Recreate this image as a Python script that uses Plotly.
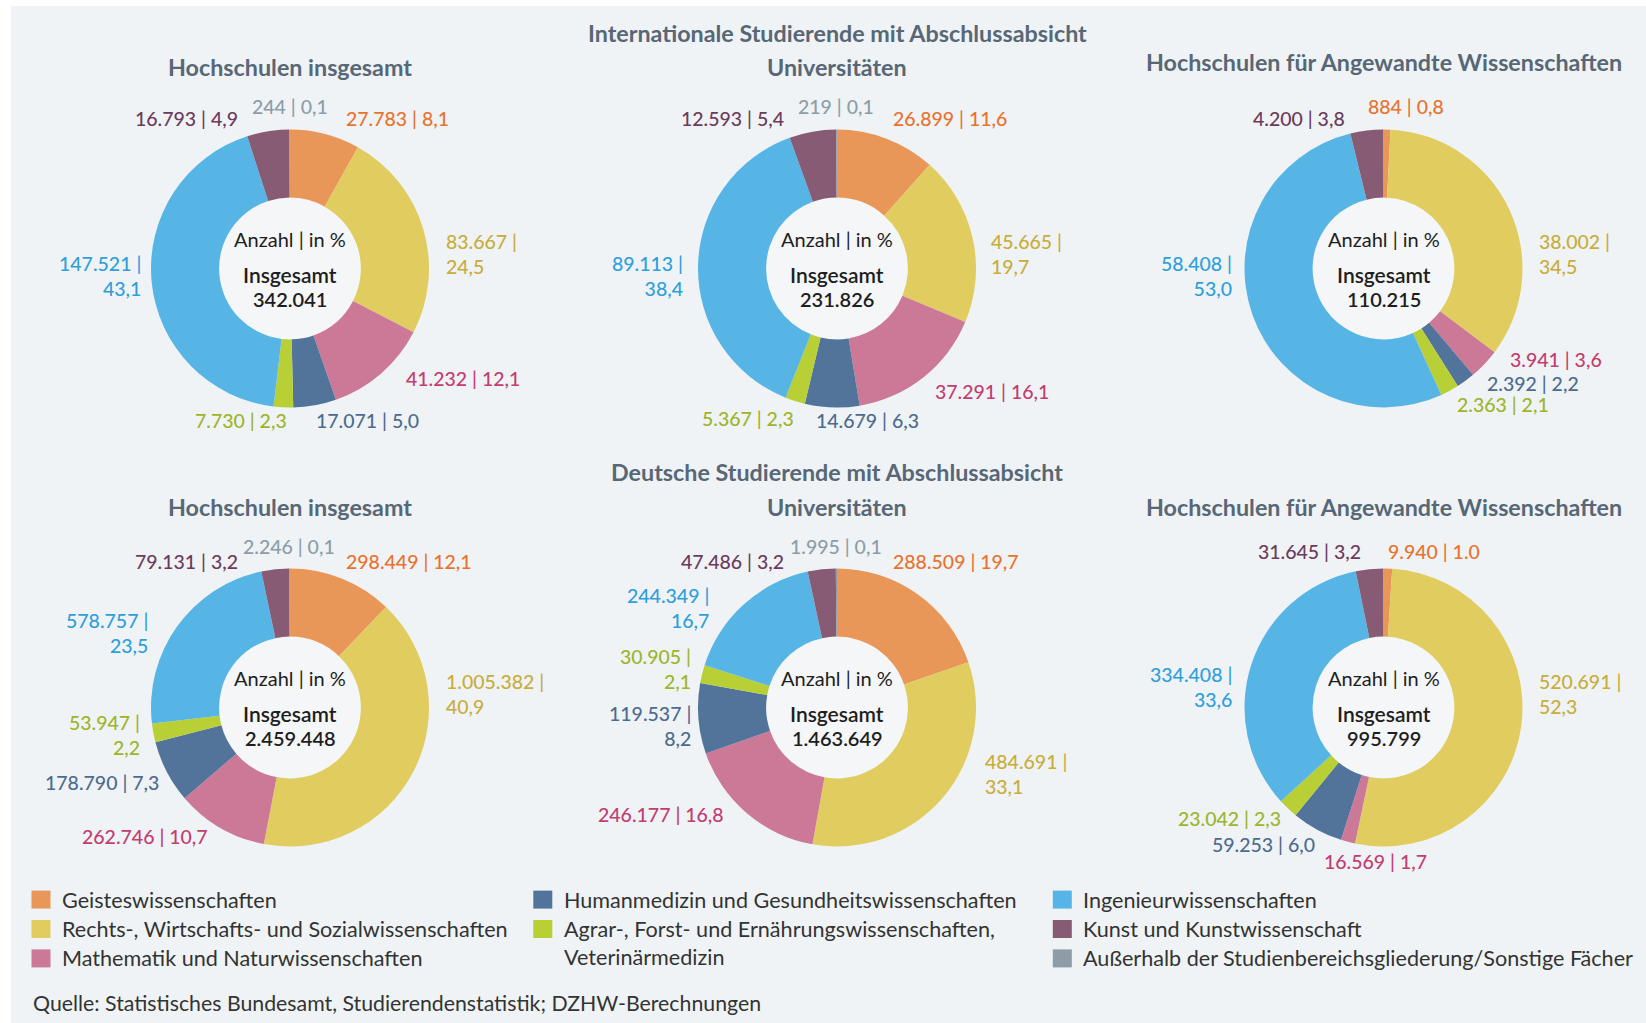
import plotly.graph_objects as go

# ---------------- data ----------------
CATEGORIES = [
    "Geisteswissenschaften",
    "Rechts-, Wirtschafts- und Sozialwissenschaften",
    "Mathematik und Naturwissenschaften",
    "Humanmedizin und Gesundheitswissenschaften",
    "Agrar-, Forst- und Ernährungswissenschaften, Veterinärmedizin",
    "Ingenieurwissenschaften",
    "Kunst und Kunstwissenschaft",
    "Außerhalb der Studienbereichsgliederung/Sonstige Fächer",
]

GROUP_TITLES = ["Internationale Studierende mit Abschlussabsicht",
                "Deutsche Studierende mit Abschlussabsicht"]
CHART_TITLES = ["Hochschulen insgesamt", "Universitäten",
                "Hochschulen für Angewandte Wissenschaften"]

intl_all = [27783, 83667, 41232, 17071, 7730, 147521, 16793, 244]
intl_all_pct = ["8,1", "24,5", "12,1", "5,0", "2,3", "43,1", "4,9", "0,1"]
intl_uni = [26899, 45665, 37291, 14679, 5367, 89113, 12593, 219]
intl_uni_pct = ["11,6", "19,7", "16,1", "6,3", "2,3", "38,4", "5,4", "0,1"]
# last value = total 110.215 minus the labelled slices (not labelled in the source)
intl_haw = [884, 38002, 3941, 2392, 2363, 58408, 4200, 25]
intl_haw_pct = ["0,8", "34,5", "3,6", "2,2", "2,1", "53,0", "3,8", None]

de_all = [298449, 1005382, 262746, 178790, 53947, 578757, 79131, 2246]
de_all_pct = ["12,1", "40,9", "10,7", "7,3", "2,2", "23,5", "3,2", "0,1"]
de_uni = [288509, 484691, 246177, 119537, 30905, 244349, 47486, 1995]
de_uni_pct = ["19,7", "33,1", "16,8", "8,2", "2,1", "16,7", "3,2", "0,1"]
# last value = total 995.799 minus the labelled slices (not labelled in the source)
de_haw = [9940, 520691, 16569, 59253, 23042, 334408, 31645, 251]
de_haw_pct = ["1.0", "52,3", "1,7", "6,0", "2,3", "33,6", "3,2", None]

CENTER_HEAD = "Anzahl | in %"
CENTER_TOTAL = "Insgesamt"
SOURCE = "Quelle: Statistisches Bundesamt, Studierendenstatistik; DZHW-Berechnungen"

SERIES = [
    [(intl_all, intl_all_pct), (intl_uni, intl_uni_pct), (intl_haw, intl_haw_pct)],
    [(de_all, de_all_pct), (de_uni, de_uni_pct), (de_haw, de_haw_pct)],
]

# ---------------- style / layout ----------------
W, H = 1646, 1023
FONT = "Lato, 'Open Sans', sans-serif"
BG = "#eff3f5"
HOLE_BG = "#f4f6f7"
TITLE_COLOR = "#586776"
TEXT_DARK = "#1e1e1e"
LEGEND_TEXT = "#333333"

SLICE_COLORS = ["#e99758", "#e1cc5f", "#cc7897", "#52739a",
                "#b8cf35", "#57b5e5", "#885b75", "#8e9ca7"]
LABEL_COLORS = ["#e8722e", "#c8ad3a", "#c23d70", "#4d6b8f",
                "#9cb52b", "#2e9fdc", "#6c3b5b", "#8c9da8"]

COL_X = [290, 837, 1383.5]
ROW_Y = [268.5, 707.5]
R = 139
HOLE = 0.51

# label placement relative to the donut centre (px): dx, dy, xanchor, lines
LABEL_POS = [
    [
        [(54, -150, "left", 1), (154, -15, "left", 2), (114, 110, "left", 1),
         (24, 152, "left", 1), (-1, 152, "right", 1), (-147, 7, "right", 2),
         (-50, -150, "right", 1), (0, -162, "center", 1)],
        [(54, -150, "left", 1), (152, -15, "left", 2), (96, 123, "left", 1),
         (-23, 152, "left", 1), (-41, 150, "right", 1), (-152, 7, "right", 2),
         (-51, -150, "right", 1), (-1, -162, "center", 1)],
        [(-18, -162, "left", 1), (153, -15, "left", 2), (124, 91, "left", 1),
         (101, 115, "left", 1), (71, 136, "left", 1), (-150, 7, "right", 2),
         (-37, -150, "right", 1), None],
    ],
    [
        [(54, -146, "left", 1), (154, -14, "left", 2), (-80, 129, "right", 1),
         (-129, 75, "right", 1), (-148, 27, "right", 2), (-140, -75, "right", 2),
         (-50, -146, "right", 1), (-1, -161, "center", 1)],
        [(54, -146, "left", 1), (146, 66, "left", 2), (-111, 107, "right", 1),
         (-144, 18, "right", 2), (-144, -39, "right", 2), (-126, -100, "right", 2),
         (-51, -146, "right", 1), (-1, -161, "center", 1)],
        [(2, -156, "left", 1), (153, -14, "left", 2), (-8, 154, "center", 1),
         (-67, 137, "right", 1), (-101, 111, "right", 1), (-150, -21, "right", 2),
         (-21, -156, "right", 1), None],
    ],
]

GROUP_TITLE_Y = [33, 472]
CHART_TITLE_Y = [[67, 67, 62], [507, 507, 507]]
TITLE_SIZE = 23.3

LEG_SQ_X = [31.5, 533.3, 1052.8]
LEG_TX_X = [60, 561.5, 1081]
LEG_ROW_Y = [899.6, 929, 958.4]
LEG_SLOT = [(0, 0), (0, 1), (0, 2), (1, 0), (1, 1), (2, 0), (2, 1), (2, 2)]
LEG_SIZE = 21.6


def px(x):
    return x / W


def py(y):
    return 1 - y / H


def fmt(v):
    return f"{v:,}".replace(",", ".")


fig = go.Figure()
annotations = []
shapes = [dict(type="rect", xref="paper", yref="paper", x0=px(11), x1=1,
               y0=0, y1=py(6), fillcolor=BG, line=dict(width=0), layer="below")]

for r, row in enumerate(SERIES):
    cy = ROW_Y[r]
    for c, (vals, pcts) in enumerate(row):
        cx = COL_X[c]
        fig.add_trace(go.Pie(
            labels=CATEGORIES, values=vals, sort=False, direction="clockwise",
            rotation=0, hole=HOLE, textinfo="none", hoverinfo="label+value",
            marker=dict(colors=SLICE_COLORS, line=dict(width=0)),
            domain=dict(x=[px(cx - R), px(cx + R)], y=[py(cy + R), py(cy - R)]),
            showlegend=False,
        ))
        rin = R * HOLE
        shapes.append(dict(type="circle", xref="paper", yref="paper",
                           x0=px(cx - rin), x1=px(cx + rin),
                           y0=py(cy + rin), y1=py(cy - rin),
                           fillcolor=HOLE_BG, line=dict(width=0), layer="below"))
        # chart title
        annotations.append(dict(
            x=px(cx), y=py(CHART_TITLE_Y[r][c]), xref="paper", yref="paper",
            text=f"<b>{CHART_TITLES[c]}</b>", showarrow=False,
            xanchor="center", yanchor="middle",
            font=dict(family=FONT, size=TITLE_SIZE, color=TITLE_COLOR)))
        # centre text
        for txt, dy, size, weight in [(CENTER_HEAD, -30, 20, 400),
                                      (CENTER_TOTAL, 5.5, 21, 600),
                                      (fmt(sum(vals)), 30.5, 20, 600)]:
            annotations.append(dict(
                x=px(cx), y=py(cy + dy), xref="paper", yref="paper", text=txt,
                showarrow=False, xanchor="center", yanchor="middle",
                font=dict(family=FONT, size=size, color=TEXT_DARK, weight=weight)))
        # slice labels
        for i, (v, p) in enumerate(zip(vals, pcts)):
            pos = LABEL_POS[r][c][i]
            if p is None or pos is None:
                continue
            dx, dy, xa, lines = pos
            sep = " |<br>" if lines == 2 else " | "
            annotations.append(dict(
                x=px(cx + dx), y=py(cy + dy), xref="paper", yref="paper",
                text=f"{fmt(v)}{sep}{p}", showarrow=False,
                xanchor=xa, yanchor="middle", align=xa,
                font=dict(family=FONT, size=19.5, color=LABEL_COLORS[i], weight=500)))
    # group title
    annotations.append(dict(
        x=px(COL_X[1]), y=py(GROUP_TITLE_Y[r]), xref="paper", yref="paper",
        text=f"<b>{GROUP_TITLES[r]}</b>", showarrow=False,
        xanchor="center", yanchor="middle",
        font=dict(family=FONT, size=TITLE_SIZE, color=TITLE_COLOR)))

# legend
for i, name in enumerate(CATEGORIES):
    col, rw = LEG_SLOT[i]
    yc = LEG_ROW_Y[rw]
    shapes.append(dict(type="rect", xref="paper", yref="paper",
                       x0=px(LEG_SQ_X[col]), x1=px(LEG_SQ_X[col] + 19),
                       y0=py(yc + 9), y1=py(yc - 9),
                       fillcolor=SLICE_COLORS[i], line=dict(width=0)))
    text = name.replace(", Veterinärmedizin", ",<br>Veterinärmedizin")
    two = "<br>" in text
    annotations.append(dict(
        x=px(LEG_TX_X[col]), y=py(yc + (13.6 if two else 0)),
        xref="paper", yref="paper", text=text, showarrow=False,
        xanchor="left", yanchor="middle", align="left",
        font=dict(family=FONT, size=LEG_SIZE, color=LEGEND_TEXT)))

annotations.append(dict(
    x=px(30.5), y=py(1002.5), xref="paper", yref="paper", text=SOURCE,
    showarrow=False, xanchor="left", yanchor="middle",
    font=dict(family=FONT, size=21.3, color=LEGEND_TEXT)))

fig.update_layout(
    width=W, height=H, margin=dict(l=0, r=0, t=0, b=0),
    paper_bgcolor="white", plot_bgcolor="white",
    annotations=annotations, shapes=shapes,
    font=dict(family=FONT),
)

fig.write_html("out.html", config={"displayModeBar": False},
               post_script="document.body.style.margin='0';")
